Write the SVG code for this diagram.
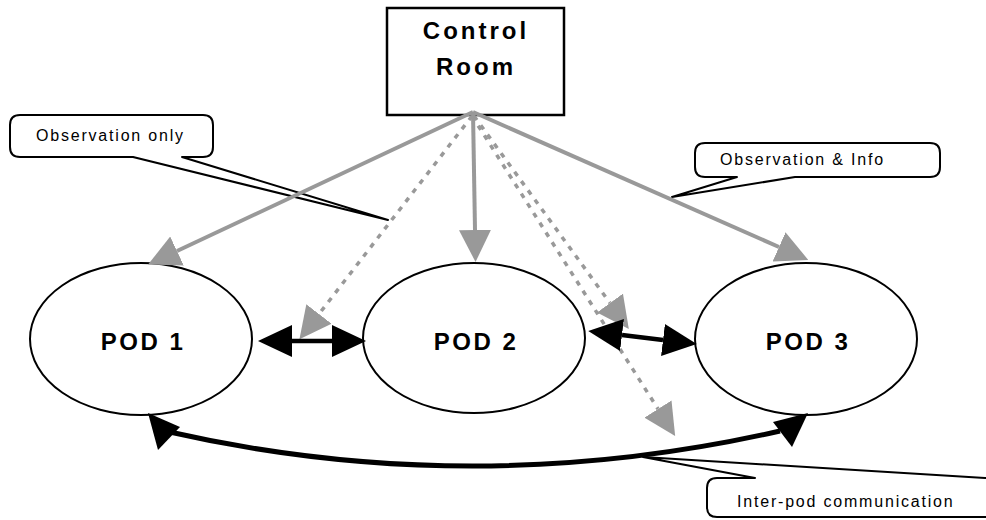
<svg xmlns="http://www.w3.org/2000/svg" width="986" height="520" viewBox="0 0 986 520">
  <style>
    .node { fill: #fff; stroke: #000; stroke-width: 2; }
    .box { fill: #fff; stroke: #000; stroke-width: 2.5; }
    .callout { fill: #fff; stroke: #000; stroke-width: 2; stroke-linejoin: round; }
    .title { font-family: "Liberation Sans", Arial, sans-serif; font-weight: bold; font-size: 24px; letter-spacing: 3px; text-anchor: middle; fill: #000; }
    .pod { font-family: "Liberation Sans", Arial, sans-serif; font-weight: bold; font-size: 24px; letter-spacing: 2.5px; text-anchor: middle; fill: #000; }
    .note { font-family: "Liberation Sans", Arial, sans-serif; font-size: 16px; letter-spacing: 1.8px; fill: #000; }
    .gray { fill: none; stroke: #999; stroke-width: 4; }
    .dotted { fill: none; stroke: #999; stroke-width: 3.5; stroke-dasharray: 5 6.5; }
    .black { fill: none; stroke: #000; stroke-width: 4.5; }
    .curve { fill: none; stroke: #000; stroke-width: 5; }
    .head { fill: #000; stroke: none; }
  </style>
  <defs>
    <!-- gray arrowhead: base at the path end, tip 32px beyond -->
    <marker id="gray-head" markerUnits="userSpaceOnUse" markerWidth="32" markerHeight="32" viewBox="0 0 32 32" refX="0" refY="16" orient="auto">
      <path d="M0,0 L32,16 L0,32 Z" fill="#999" stroke="none"/>
    </marker>
    <!-- black arrowhead used at both ends of two-way links -->
    <marker id="black-head" markerUnits="userSpaceOnUse" markerWidth="34" markerHeight="32" viewBox="0 0 34 32" refX="0" refY="16" orient="auto-start-reverse">
      <path d="M0,0 L34,16 L0,32 Z" fill="#000" stroke="none"/>
    </marker>
  </defs>

  <!-- callouts -->
  <g id="callout-observation-only">
    <path class="callout" d="M20,115 H203 Q213,115 213,125 V147 Q213,157 203,157 H182 L388,220 L133,157 H20 Q10,157 10,147 V125 Q10,115 20,115 Z"/>
    <text class="note" x="36" y="141">Observation only</text>
  </g>
  <g id="callout-observation-info">
    <path class="callout" d="M705,143 H930 Q940,143 940,153 V167 Q940,177 930,177 H795 L672,197 L737,177 H705 Q695,177 695,167 V153 Q695,143 705,143 Z"/>
    <text class="note" x="720" y="165">Observation &amp; Info</text>
  </g>
  <g id="callout-inter-pod">
    <path class="callout" d="M717,478 H755 L643,457 L985,478 H1000 V517 H717 Q707,517 707,507 V488 Q707,478 717,478 Z"/>
    <text class="note" x="737" y="507">Inter-pod communication</text>
  </g>

  <!-- nodes -->
  <g id="control-room">
    <rect class="box" x="387" y="8" width="177" height="107"/>
    <text class="title" x="476" y="39">Control</text>
    <text class="title" x="476" y="75">Room</text>
  </g>
  <g id="pod-1">
    <ellipse class="node" cx="141" cy="339" rx="111" ry="76"/>
    <text class="pod" x="143" y="350">POD 1</text>
  </g>
  <g id="pod-2">
    <ellipse class="node" cx="474" cy="338" rx="111" ry="75"/>
    <text class="pod" x="476" y="350">POD 2</text>
  </g>
  <g id="pod-3">
    <ellipse class="node" cx="806" cy="339" rx="111" ry="76"/>
    <text class="pod" x="808" y="350">POD 3</text>
  </g>

  <!-- connectors -->
  <g id="connectors">
    <!-- observation & info links from the control room -->
    <path class="gray" d="M473,112 L177,251" marker-end="url(#gray-head)"/>
    <path class="gray" d="M473,112 L475,230" marker-end="url(#gray-head)"/>
    <path class="gray" d="M473,112 L779,247" marker-end="url(#gray-head)"/>
    <!-- observation-only links -->
    <path class="dotted" d="M472,116 L319,314" marker-end="url(#gray-head)"/>
    <path class="dotted" d="M474,116 L610,303" marker-end="url(#gray-head)"/>
    <path class="dotted" d="M472,116 L658,409" marker-end="url(#gray-head)"/>
    <!-- two-way links between neighbouring pods -->
    <path class="black" d="M292,341 H332" marker-start="url(#black-head)" marker-end="url(#black-head)"/>
    <path class="black" d="M622,335 L663,340" marker-start="url(#black-head)" marker-end="url(#black-head)"/>
    <!-- inter-pod link between pod 1 and pod 3 -->
    <path class="curve" d="M165,431 Q472,501 780,431"/>
    <polygon class="head" points="148,413 158,450 180,427"/>
    <polygon class="head" points="808,413 773,422 792,447"/>
  </g>
</svg>
